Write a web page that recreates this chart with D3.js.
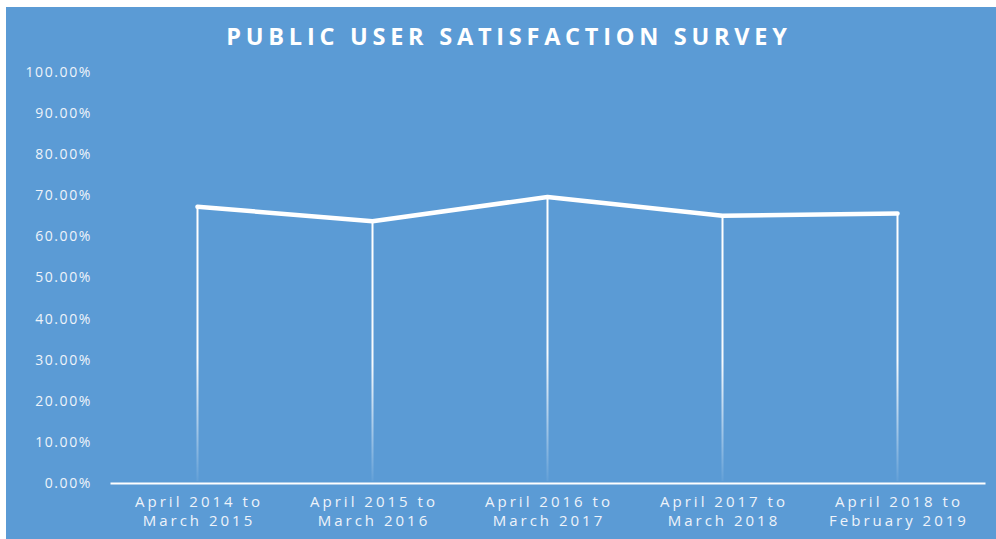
<!DOCTYPE html>
<html><head><meta charset="utf-8">
<script src="https://cdn.jsdelivr.net/npm/d3@7"></script>
<style>body{margin:0;background:#fff}svg{display:block}</style>
</head><body>
<script>
const categories = [["April 2014 to","March 2015"],["April 2015 to","March 2016"],["April 2016 to","March 2017"],["April 2017 to","March 2018"],["April 2018 to","February 2019"]];
const values = [0.672, 0.637, 0.696, 0.650, 0.656];
const yTicks = [0,0.1,0.2,0.3,0.4,0.5,0.6,0.7,0.8,0.9,1.0];
const title = "PUBLIC USER SATISFACTION SURVEY";

const W=996,H=539;
const svg=d3.select("body").append("svg").attr("width",W).attr("height",H);
svg.append("rect").attr("x",6).attr("y",7).attr("width",W-6).attr("height",H-7).attr("fill","#5B9BD5");

const defs=svg.append("defs");
const grad=defs.append("linearGradient").attr("id","fade").attr("x1",0).attr("y1",0).attr("x2",0).attr("y2",1).attr("gradientUnits","objectBoundingBox");
grad.append("stop").attr("offset","0%").attr("stop-color","#fff").attr("stop-opacity",1);
grad.append("stop").attr("offset","55%").attr("stop-color","#fff").attr("stop-opacity",0.95);
grad.append("stop").attr("offset","100%").attr("stop-color","#fff").attr("stop-opacity",0.05);

const x=d3.scaleBand().domain(d3.range(categories.length)).range([110,985]);
const y=d3.scaleLinear().domain([0,1]).range([483,72]);

svg.append("text").attr("x",509).attr("y",45).attr("text-anchor","middle")
 .attr("fill","#fff").attr("font-family","'Open Sans',sans-serif").attr("font-weight","bold")
 .attr("font-size",23.5).attr("letter-spacing",4.75).text(title);

// y axis labels
const ya=svg.append("g").attr("transform","translate(92,0)")
 .call(d3.axisLeft(y).tickValues(yTicks).tickFormat(d=>(d*100).toFixed(2)+"%").tickSize(0).tickPadding(0));
ya.select(".domain").remove();
ya.selectAll("text").attr("fill","#eef3fa").attr("font-family","'Open Sans',sans-serif").attr("font-size",14).attr("letter-spacing",1.6);

// x axis
const xa=svg.append("g").attr("transform","translate(0,483)")
 .call(d3.axisBottom(x).tickSize(0).tickFormat(""));
xa.select(".domain").attr("stroke","#fff").attr("stroke-width",2);
const lab=svg.append("g");
categories.forEach((c,i)=>{
 const cx=x(i)+x.bandwidth()/2+1.5;
 const t=lab.append("text").attr("x",cx).attr("text-anchor","middle")
  .attr("fill","#eef3fa").attr("font-family","'Open Sans',sans-serif").attr("font-size",15).attr("letter-spacing",3);
 t.append("tspan").attr("x",cx).attr("y",507).text(c[0]);
 t.append("tspan").attr("x",cx).attr("y",526).text(c[1]);
});

// drop lines
svg.append("g").selectAll("rect").data(values).join("rect")
 .attr("x",(d,i)=>x(i)+x.bandwidth()/2-1).attr("y",d=>y(d)).attr("width",2)
 .attr("height",d=>y(0)-y(d)-2).attr("fill","url(#fade)");

// line
svg.append("path").datum(values)
 .attr("d",d3.line().x((d,i)=>x(i)+x.bandwidth()/2).y(d=>y(d)))
 .attr("fill","none").attr("stroke","#fff").attr("stroke-width",4.5).attr("stroke-linecap","round").attr("stroke-linejoin","round");
</script>
</body></html>
